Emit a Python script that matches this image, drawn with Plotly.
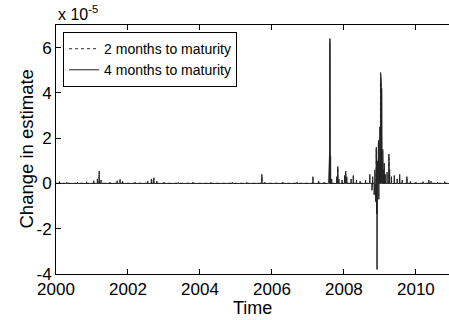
import plotly.graph_objects as go

# ---- data (units of 1e-5) ----
t_4m = [2000.10, 2000.30, 2000.60, 2000.85, 2001.05, 2001.15, 2001.20, 2001.25, 2001.50,
        2001.70, 2001.78, 2001.85, 2002.20, 2002.55, 2002.65, 2002.72, 2002.80, 2003.00,
        2003.40, 2003.80, 2004.30, 2004.90, 2005.30, 2005.72, 2005.80, 2006.30, 2006.70,
        2007.14, 2007.30, 2007.45, 2007.58, 2007.60, 2007.61, 2007.62, 2007.63, 2007.66,
        2007.80, 2007.83, 2007.86, 2007.95, 2008.02, 2008.05, 2008.08, 2008.20, 2008.26,
        2008.35, 2008.45, 2008.60, 2008.72, 2008.78, 2008.80, 2008.84, 2008.86, 2008.88,
        2008.90, 2008.91, 2008.92, 2008.93, 2008.94, 2008.96, 2008.97, 2008.99, 2009.00,
        2009.02, 2009.03, 2009.04, 2009.05, 2009.06, 2009.08, 2009.10, 2009.12, 2009.15,
        2009.20, 2009.25, 2009.27, 2009.32, 2009.40, 2009.48, 2009.55, 2009.62, 2009.75,
        2009.85, 2010.00, 2010.20, 2010.36, 2010.42, 2010.60, 2010.80]
v_4m = [0.08, 0.05, 0.06, 0.07, 0.12, 0.2, 0.55, 0.15, 0.05,
        0.12, 0.18, 0.1, 0.05, 0.1, 0.2, 0.25, 0.1, 0.05,
        0.04, 0.05, 0.04, 0.05, 0.04, 0.4, 0.05, 0.05, 0.06,
        0.3, 0.1, 0.05, 0.3, 1.3, 6.4, 3.6, 1.2, 0.2,
        0.3, 0.75, 0.2, 0.15, 0.35, 0.55, 0.3, 0.2, 0.35,
        0.15, 0.1, 0.15, 0.4, -0.3, 0.3, -0.5, 0.6, -0.8,
        1.6, -1.35, -3.8, 1.0, -0.9, 1.9, -0.7, 1.2, 2.5,
        4.9, 3.6, 4.5, 4.2, 2.8, 1.5, 0.6, 0.9, 0.4,
        0.5, 1.3, 0.6, 0.3, 0.35, 0.2, 0.4, 0.15, 0.3,
        0.1, 0.05, 0.08, 0.15, 0.1, 0.05, 0.08]

t_2m = [2001.20, 2002.70, 2005.72, 2007.61, 2007.83, 2008.05, 2008.90, 2008.92,
        2008.96, 2009.02, 2009.25, 2009.75]
v_2m = [0.3, 0.15, 0.3, 6.2, 0.7, 0.4, 1.5, -1.3, 1.8, 4.6, 1.1, 0.2]

x_start, x_end = 2000.0, 2010.92
ytick_vals = [-4, -2, 0, 2, 4, 6]
ytick_text = ["-4", "-2", "0", "2", "4", "6"]
xtick_vals = [2000, 2002, 2004, 2006, 2008, 2010]


def spikes(ts, vs, half=0.004):
    xs, ys = [x_start], [0.0]
    for t, v in zip(ts, vs):
        xs += [t - half, t, t + half]
        ys += [0.0, v, 0.0]
    xs.append(x_end)
    ys.append(0.0)
    return xs, ys


x2, y2 = spikes(t_2m, v_2m)
x4, y4 = spikes(t_4m, v_4m)

FONT = "Liberation Sans, Arial, sans-serif"

fig = go.Figure()
fig.add_trace(go.Scatter(x=x2, y=y2, mode="lines", name="2 months to maturity",
                         line=dict(color="#555555", width=1.3, dash="dot")))
fig.add_trace(go.Scatter(x=x4, y=y4, mode="lines", name="4 months to maturity",
                         line=dict(color="#222222", width=1)))

fig.update_layout(
    width=449, height=320,
    margin=dict(l=56, r=0, t=25, b=46),
    paper_bgcolor="white", plot_bgcolor="white",
    font=dict(family=FONT, size=17, color="black"),
    showlegend=True,
    legend=dict(x=0.018, y=0.972, xanchor="left", yanchor="top",
                bgcolor="white", bordercolor="black", borderwidth=1,
                font=dict(size=14), tracegroupgap=0, itemwidth=30),
    xaxis=dict(range=[x_start, x_end], tickvals=xtick_vals, ticks="inside",
               ticklen=5, tickcolor="black", showline=True, linecolor="black",
               linewidth=1, mirror="ticks", showgrid=False, zeroline=False),
    yaxis=dict(range=[-4, 7], tickvals=ytick_vals, ticktext=ytick_text,
               ticks="inside", ticklen=5, tickcolor="black", showline=True,
               linecolor="black", linewidth=1, mirror=False, showgrid=False,
               zeroline=False),
    annotations=[
        dict(text="x 10<sup>-5</sup>", xref="paper", yref="paper",
             x=0.0, y=1.0, xanchor="left", yanchor="bottom",
             showarrow=False, font=dict(size=16)),
        dict(text="Change in estimate", xref="paper", yref="paper",
             x=-0.0763, y=0.5, xanchor="center", yanchor="middle", textangle=-90,
             showarrow=False, font=dict(size=18.5)),
        dict(text="Time", xref="paper", yref="paper",
             x=0.5, y=-0.1365, xanchor="center", yanchor="middle",
             showarrow=False, font=dict(size=18)),
    ],
)

fig.write_html("out.html")
